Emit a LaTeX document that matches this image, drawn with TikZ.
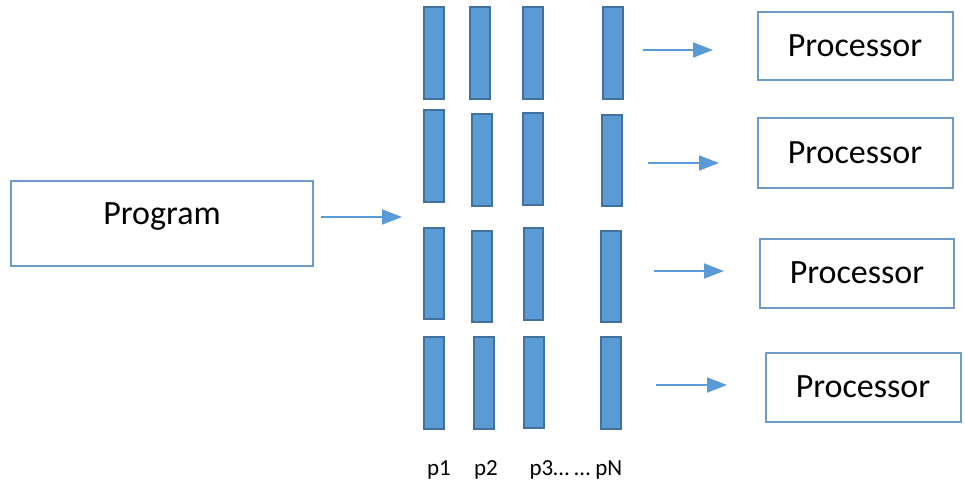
\documentclass[tikz,border=0pt]{standalone}
\usepackage{fontspec}
\setmainfont{Carlito}
\usetikzlibrary{arrows.meta}
\definecolor{boxline}{HTML}{6F9BCB}
\definecolor{barfill}{HTML}{5B9BD5}
\definecolor{barline}{HTML}{41719C}
\definecolor{arrowc}{HTML}{5B9BD5}
\tikzset{
  bigbox/.style={draw=boxline, line width=2.4pt, inner sep=0pt, font=\fontsize{34}{40}\selectfont},
  bar/.style={draw=barline, fill=barfill, line width=2.6pt},
  flow/.style={draw=arrowc, line width=1.8pt, -{Triangle[length=20pt,width=15pt]}},
  lab/.style={font=\fontsize{23}{26}\selectfont, anchor=base}
}
\begin{document}
\begin{tikzpicture}[x=1pt,y=-1pt]
\useasboundingbox (0,0) rectangle (965,483);
% Program box
\draw[bigbox] (11,181) rectangle (313,266);
\node[font=\fontsize{34}{40}\selectfont] (prog) at (162,217) {Program};
% bars row 1
\draw[bar] (424,7) rectangle (444,99);
\draw[bar] (470,7) rectangle (490,99);
\draw[bar] (523,7) rectangle (543,99);
\draw[bar] (603,7) rectangle (623,99);
% row 2
\draw[bar] (424,110) rectangle (444,202);
\draw[bar] (472,114) rectangle (492,206);
\draw[bar] (523,113) rectangle (543,205);
\draw[bar] (602,115) rectangle (622,206);
% row 3
\draw[bar] (424,228) rectangle (444,319);
\draw[bar] (472,231) rectangle (492,322);
\draw[bar] (524,228) rectangle (543,320);
\draw[bar] (601,231) rectangle (621,322);
% row 4
\draw[bar] (424,337) rectangle (444,429);
\draw[bar] (474,337) rectangle (494,429);
\draw[bar] (524,337) rectangle (544,428);
\draw[bar] (601,337) rectangle (621,429);
% labels
\node[lab] (l1) at (439,475) {p1};
\node[lab] (l2) at (486,475) {p2};
\node[lab, anchor=base west] (l3) at (526,475) {p3… … pN};
% processors
\draw[bigbox] (758,12) rectangle (953,80);
\node[font=\fontsize{34}{40}\selectfont] (pr1) at (855,46) {Processor};
\draw[bigbox] (758,118) rectangle (953,188);
\node[font=\fontsize{34}{40}\selectfont] (pr2) at (855,153) {Processor};
\draw[bigbox] (760,239) rectangle (954,308);
\node[font=\fontsize{34}{40}\selectfont] (pr3) at (857,273) {Processor};
\draw[bigbox] (766,353) rectangle (961,422);
\node[font=\fontsize{34}{40}\selectfont] (pr4) at (863,387) {Processor};
% arrows
\coordinate (a0s) at (321,217); \coordinate (a0e) at (402,217);
\coordinate (a1s) at (643,50);  \coordinate (a1e) at (713,50);
\coordinate (a2s) at (648,163); \coordinate (a2e) at (719,163);
\coordinate (a3s) at (654,271); \coordinate (a3e) at (724,271);
\coordinate (a4s) at (656,385); \coordinate (a4e) at (727,385);
\draw[flow] (a0s) -- (a0e);
\draw[flow] (a1s) -- (a1e);
\draw[flow] (a2s) -- (a2e);
\draw[flow] (a3s) -- (a3e);
\draw[flow] (a4s) -- (a4e);
\end{tikzpicture}
\end{document}
